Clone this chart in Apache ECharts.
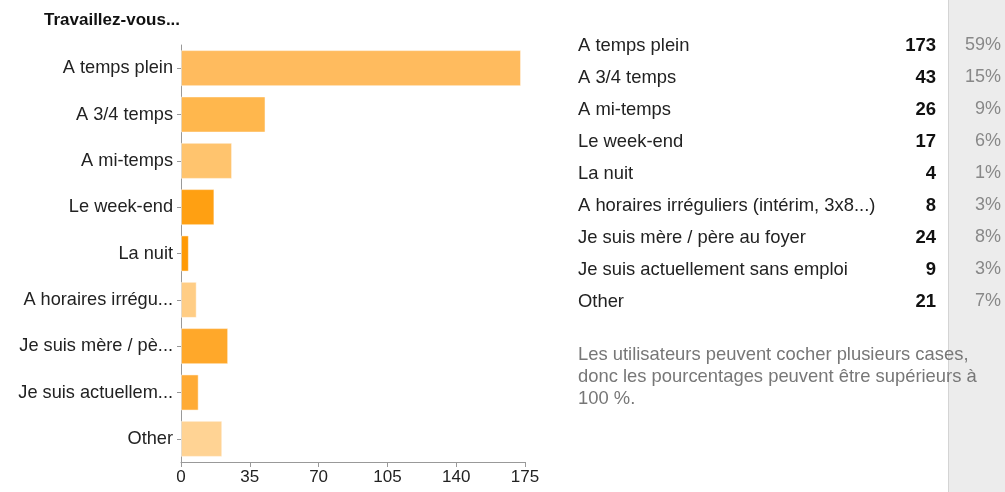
<!DOCTYPE html>
<html>
<head>
<meta charset="utf-8">
<script src="https://cdn.jsdelivr.net/npm/echarts@6/dist/echarts.min.js"></script>
<style>
  html, body { margin: 0; padding: 0; background: #fff; }
  #chart { width: 1005px; height: 492px; }
</style>
</head>
<body>
<div id="chart"></div>
<script>
// short labels on the axis, full labels in the table
const axisLabels = ["A temps plein", "A 3/4 temps", "A mi-temps", "Le week-end", "La nuit",
    "A horaires irrégu...", "Je suis mère / pè...", "Je suis actuellem...", "Other"];
const fullLabels = ["A temps plein", "A 3/4 temps", "A mi-temps", "Le week-end", "La nuit",
    "A horaires irréguliers (intérim, 3x8...)", "Je suis mère / père au foyer",
    "Je suis actuellement sans emploi", "Other"];
const counts = [173, 43, 26, 17, 4, 8, 24, 9, 21];
const percents = ["59%", "15%", "9%", "6%", "1%", "3%", "8%", "3%", "7%"];
const barColors = ["#ffbb5e", "#ffb74d", "#ffc46e", "#ffa012", "#ff9a05",
    "#ffcd85", "#ffa82a", "#ffab35", "#ffd394"];
const xTicks = [0, 35, 70, 105, 140, 175];

const font = "Liberation Sans, Arial, sans-serif";
const chart = echarts.init(document.getElementById("chart"));

// right-hand table, one row per answer
const tableRows = [];
fullLabels.forEach((label, i) => {
    const y = 46.5 + i * 32;
    tableRows.push({ type: "text", left: 578, top: y - 10,
        style: { text: label, font: `18.4px ${font}`, fill: "#222" } });
    tableRows.push({ type: "text", right: 1005 - 936, top: y - 10,
        style: { text: String(counts[i]), font: `bold 18.5px ${font}`, fill: "#111", align: "right" } });
    tableRows.push({ type: "text", right: 4, top: y - 10,
        style: { text: percents[i], font: `18px ${font}`, fill: "#888", align: "right" } });
});

chart.setOption({
    animation: false,
    grid: { left: 181, right: 480, top: 45, bottom: 30 },
    graphic: [
        { type: "rect", shape: { x: 948, y: 0, width: 57, height: 492 },
          style: { fill: "#ececec" }, z: -1 },
        { type: "line", shape: { x1: 948.5, y1: 0, x2: 948.5, y2: 492 },
          style: { stroke: "#d4d4d4", lineWidth: 1 }, z: -1 },
        { type: "text", left: 44, top: 12,
          style: { text: "Travaillez-vous...", font: `bold 17px ${font}`, fill: "#111" } },
        { type: "text", left: 578, top: 344,
          style: { text: "Les utilisateurs peuvent cocher plusieurs cases,\ndonc les pourcentages peuvent être supérieurs à\n100 %.",
                   font: `18.4px ${font}`, fill: "#777", lineHeight: 22 } },
        ...tableRows
    ],
    xAxis: {
        type: "value",
        min: 0, max: 175, interval: 35,
        splitLine: { show: false },
        axisLine: { show: true, lineStyle: { color: "#999" } },
        axisTick: { show: true, length: 5, lineStyle: { color: "#999" } },
        axisLabel: { color: "#222", fontSize: 17, fontFamily: font, margin: 7,
            formatter: v => xTicks.includes(v) ? String(v) : "" }
    },
    yAxis: {
        type: "category",
        inverse: true,
        data: axisLabels,
        axisLine: { show: true, lineStyle: { color: "#999" } },
        axisTick: { show: true, length: 4, alignWithLabel: true, lineStyle: { color: "#999" } },
        axisLabel: { color: "#222", fontSize: 18.2, fontFamily: font, margin: 8 }
    },
    series: [{
        type: "bar",
        barCategoryGap: "22%",
        data: counts.map((v, i) => ({ value: v, itemStyle: { color: barColors[i] } })),
        itemStyle: { borderColor: "rgba(255,255,255,0.5)", borderWidth: 1 }
    }]
});
</script>
</body>
</html>
